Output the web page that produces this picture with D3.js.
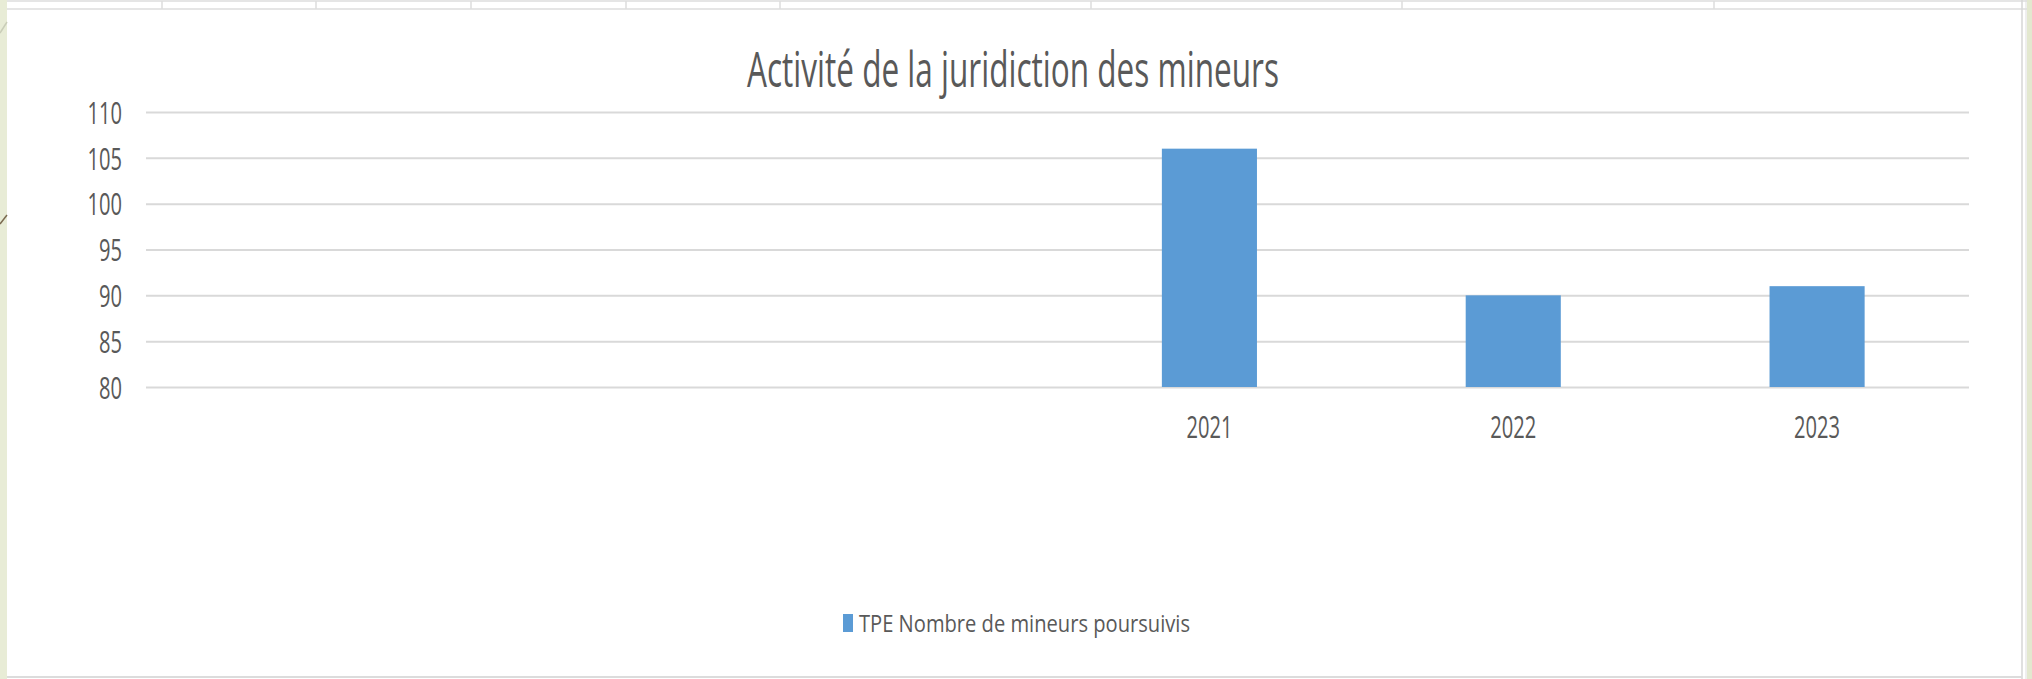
<!DOCTYPE html>
<html>
<head>
<meta charset="utf-8">
<script src="https://cdn.jsdelivr.net/npm/d3@7"></script>
<style>
  body { margin: 0; background: #fff; }
  svg { display: block; }
  text { font-family: "Open Sans", "Liberation Sans", sans-serif; }
</style>
</head>
<body>
<svg id="chart" width="2032" height="679"></svg>
<script>
// first three slots of the category axis are blank in the original sheet
const categories = ["", "", "", "2021", "2022", "2023"];
const values = [null, null, null, 106, 90, 91];
const yTicks = [80, 85, 90, 95, 100, 105, 110];
const seriesName = "TPE Nombre de mineurs poursuivis";
const title = "Activité de la juridiction des mineurs";

const width = 2032;
const height = 679;
const textColor = "#595959";
const gridColor = "#d9d9d9";
const barColor = "#5b9bd5";
const digitWidth = 11.5;

const plot = { left: 146, right: 1969, top: 112, bottom: 387 };

const svg = d3.select("#chart");

// slide background around the chart object
svg.append("rect")
  .attr("width", width)
  .attr("height", height)
  .attr("fill", "#fff");

svg.append("rect")
  .attr("x", 0).attr("y", 0)
  .attr("width", 7).attr("height", height)
  .attr("fill", "#e8ecd6");

svg.append("rect")
  .attr("x", 2027).attr("y", 0)
  .attr("width", 5).attr("height", height)
  .attr("fill", "#e3e8cf");

svg.append("line")
  .attr("x1", 0).attr("y1", 33).attr("x2", 7).attr("y2", 22)
  .attr("stroke", "#c9cdb8").attr("stroke-width", 1.5);

svg.append("line")
  .attr("x1", 0).attr("y1", 224).attr("x2", 7).attr("y2", 215)
  .attr("stroke", "#7a6a50").attr("stroke-width", 1.5);

// spreadsheet cell strip along the top
const strip = svg.append("g").attr("stroke", "#dcdcdc").attr("stroke-width", 1.5);
strip.append("line").attr("x1", 7).attr("x2", 2027).attr("y1", 1).attr("y2", 1);
strip.append("line").attr("x1", 7).attr("x2", 2027).attr("y1", 9).attr("y2", 9);
[162, 316, 471, 626, 780, 1091, 1402, 1714].forEach(x => {
  strip.append("line").attr("x1", x).attr("x2", x).attr("y1", 1).attr("y2", 9);
});

// chart object border
svg.append("line")
  .attr("x1", 2022).attr("x2", 2022).attr("y1", 0).attr("y2", height)
  .attr("stroke", "#d6d6d6").attr("stroke-width", 1.5);
svg.append("line")
  .attr("x1", 2026).attr("x2", 2026).attr("y1", 0).attr("y2", height)
  .attr("stroke", "#dedede").attr("stroke-width", 1);
svg.append("line")
  .attr("x1", 7).attr("x2", 2022).attr("y1", 677).attr("y2", 677)
  .attr("stroke", "#dcdcdc").attr("stroke-width", 2);

svg.append("text")
  .text(title)
  .attr("x", 747)
  .attr("y", 87)
  .attr("textLength", 532)
  .attr("lengthAdjust", "spacingAndGlyphs")
  .attr("fill", textColor)
  .style("font-size", "49px");

const x = d3.scaleBand()
  .domain(d3.range(categories.length))
  .range([plot.left, plot.right])
  .paddingInner(0.687)
  .paddingOuter(0.3435);

const y = d3.scaleLinear()
  .domain([d3.min(yTicks), d3.max(yTicks)])
  .range([plot.bottom, plot.top]);

const yAxis = svg.append("g")
  .attr("transform", `translate(${plot.left},0)`)
  .call(d3.axisLeft(y)
    .tickValues(yTicks)
    .tickSize(-(plot.right - plot.left))
    .tickPadding(24));

yAxis.select(".domain").remove();
yAxis.selectAll(".tick line")
  .attr("stroke", gridColor)
  .attr("stroke-width", 2);
yAxis.selectAll(".tick text")
  .attr("fill", textColor)
  .attr("dy", "0.36em")
  .style("font-size", "31px")
  .attr("textLength", d => String(d).length * digitWidth)
  .attr("lengthAdjust", "spacingAndGlyphs");

svg.append("g")
  .selectAll("rect")
  .data(values.map((v, i) => ({ i, v })).filter(d => d.v !== null))
  .join("rect")
  .attr("x", d => x(d.i))
  .attr("width", x.bandwidth())
  .attr("y", d => y(d.v))
  .attr("height", d => y(y.domain()[0]) - y(d.v))
  .attr("fill", barColor);

const xAxis = svg.append("g")
  .attr("transform", `translate(0,${plot.bottom})`)
  .call(d3.axisBottom(x)
    .tickFormat(i => categories[i])
    .tickSize(0));

xAxis.select(".domain").remove();
xAxis.selectAll(".tick text")
  .attr("fill", textColor)
  .attr("y", 51)
  .attr("dy", null)
  .style("font-size", "31px")
  .each(function (i) {
    if (categories[i]) {
      d3.select(this)
        .attr("textLength", categories[i].length * digitWidth)
        .attr("lengthAdjust", "spacingAndGlyphs");
    }
  });

// legend
const legend = svg.append("g").attr("transform", "translate(843,0)");

legend.append("rect")
  .attr("x", 0).attr("y", 614)
  .attr("width", 10).attr("height", 18)
  .attr("fill", barColor);

legend.append("text")
  .text(seriesName)
  .attr("x", 16)
  .attr("y", 632)
  .attr("textLength", 331)
  .attr("lengthAdjust", "spacingAndGlyphs")
  .attr("fill", textColor)
  .style("font-size", "24px");
</script>
</body>
</html>
